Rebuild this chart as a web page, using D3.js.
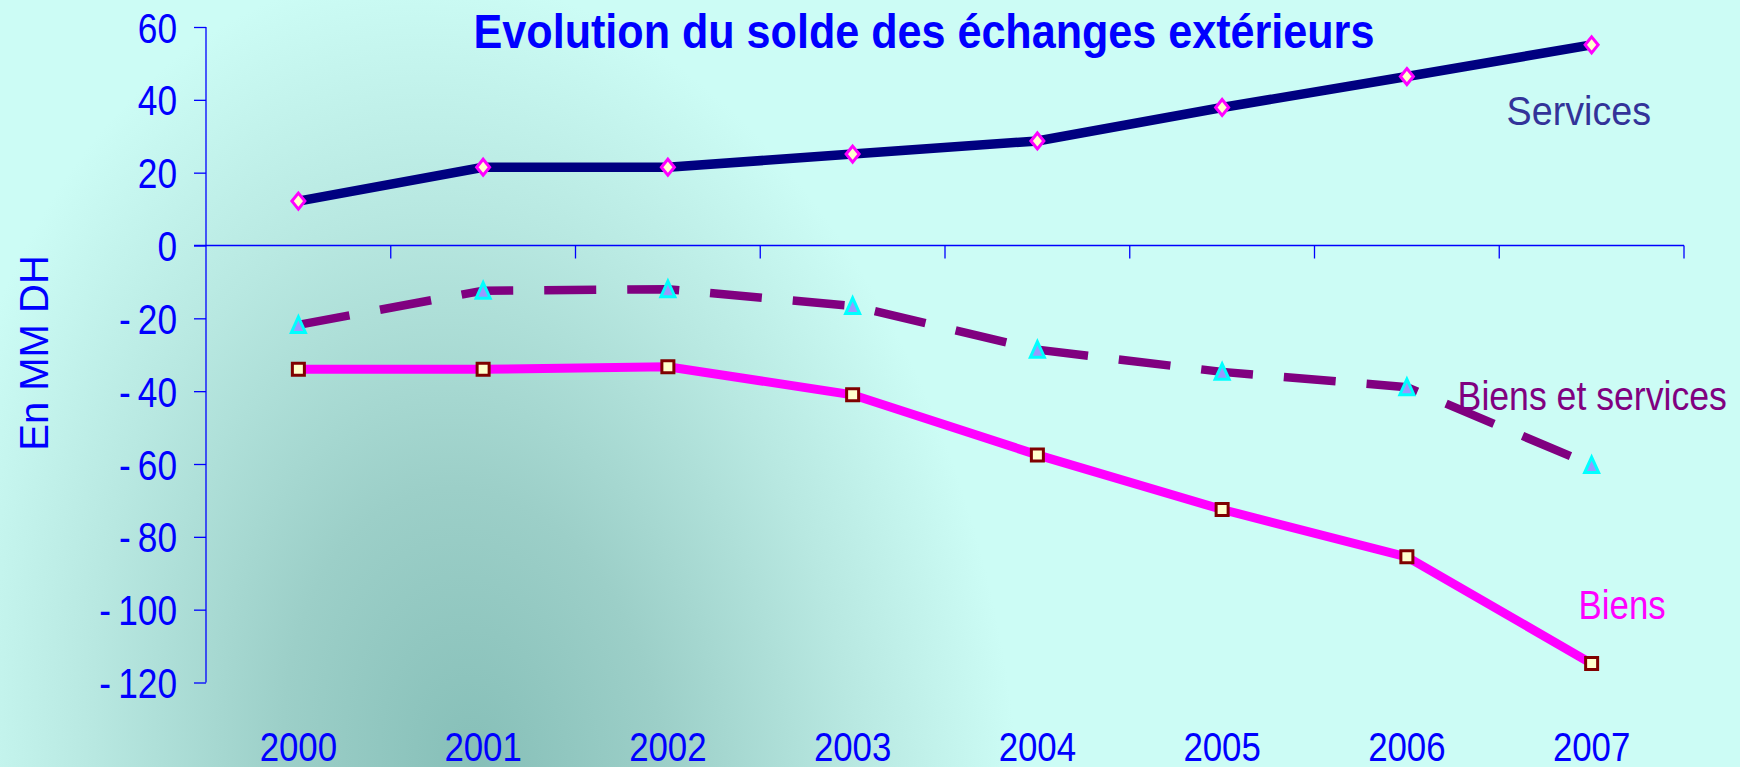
<!DOCTYPE html>
<head>
  <meta charset="utf-8">
  <script src="https://d3js.org/d3.v7.min.js"></script>
  <style>
    body {
      margin: 0;
      background: #ccfcf5;
    }
    svg text {
      font-family: "Liberation Sans", Arial, sans-serif;
    }
    .axis path, .axis line {
      stroke: #0000ff;
      stroke-width: 1.3;
    }
    .axis text {
      fill: #0000ff;
      font-size: 40.5px;
    }
    .axis.y text {
      font-size: 42px;
    }
  </style>
</head>

<body>
  <div id="chart"></div>

  <script>
    var years = ["2000", "2001", "2002", "2003", "2004", "2005", "2006", "2007"];
    var services = [12.2, 21.5, 21.5, 25.1, 28.7, 37.9, 46.4, 55.1];
    var biensEtServices = [-21.8, -12.4, -12.0, -16.6, -28.6, -34.7, -38.9, -60.3];
    var biens = [-34.0, -34.0, -33.3, -41.0, -57.5, -72.5, -85.5, -114.8];
    var yTicks = [60, 40, 20, 0, -20, -40, -60, -80, -100, -120];

    var width = 1740,
        height = 767;

    // the original font is narrow, squeeze the text horizontally
    function squeeze(sel, sx) {
      sel.each(function() {
        var t = d3.select(this),
            tx = +t.attr("x") || 0,
            tf = t.attr("transform") || "";
        t.attr("x", tx / sx)
         .attr("transform", tf + " scale(" + sx + ",1)");
      });
    }

    // markers a bit taller than wide, like the excel ones
    var tallDiamond = {
      draw: function(ctx, size) {
        ctx.moveTo(0, -8); ctx.lineTo(6.5, 0); ctx.lineTo(0, 8); ctx.lineTo(-6.5, 0); ctx.closePath();
      }
    };
    var tallTriangle = {
      draw: function(ctx, size) {
        ctx.moveTo(0, -8); ctx.lineTo(7, 7.5); ctx.lineTo(-7, 7.5); ctx.closePath();
      }
    };

    var svg = d3.select("#chart").append("svg")
      .attr("width", width)
      .attr("height", height);

    // background: dark patch rising from the bottom left
    var defs = svg.append("defs");
    var grad = defs.append("radialGradient")
      .attr("id", "bg")
      .attr("gradientUnits", "userSpaceOnUse")
      .attr("cx", 0).attr("cy", 0).attr("r", 1)
      .attr("gradientTransform", "translate(475,767) rotate(-8) scale(540,800)");
    grad.append("stop").attr("offset", "0%").attr("stop-color", "#86bfb8");
    grad.append("stop").attr("offset", "35%").attr("stop-color", "#9ccfc8");
    grad.append("stop").attr("offset", "70%").attr("stop-color", "#b8e8e1");
    grad.append("stop").attr("offset", "100%").attr("stop-color", "#ccfcf5");

    svg.append("rect")
      .attr("width", width)
      .attr("height", height)
      .attr("fill", "url(#bg)");

    var x = d3.scaleBand()
      .domain(years)
      .range([206, 1684]);

    var y = d3.scaleLinear()
      .domain([-120, 60])
      .range([682.5, 27]);

    function cx(d, i) { return x(years[i]) + x.bandwidth() / 2; }

    // y axis
    svg.append("g")
      .attr("class", "axis y")
      .attr("transform", "translate(206,0)")
      .call(d3.axisLeft(y)
        .tickValues(yTicks)
        .tickSize(12)
        .tickPadding(17)
        .tickFormat(function(d) { return d < 0 ? "-\u2009" + Math.abs(d) : d; }))
      .call(function(g) { g.select(".domain").attr("d", "M0," + y(60) + "V" + y(-120)); })
      .selectAll("text")
        .attr("dy", "0.36em")
        .call(squeeze, 0.84);

    // x axis along zero
    var xAxis = svg.append("g")
      .attr("class", "axis")
      .attr("transform", "translate(0," + y(0) + ")");
    xAxis.append("line")
      .attr("x1", 194).attr("x2", x.range()[1]);
    xAxis.selectAll(".tk")
        .data(years.slice(1).concat(["end"]))
      .enter().append("line")
        .attr("class", "tk")
        .attr("x1", function(d) { return d === "end" ? x.range()[1] : x(d); })
        .attr("x2", function(d) { return d === "end" ? x.range()[1] : x(d); })
        .attr("y1", 0)
        .attr("y2", 13);

    // year labels at bottom
    svg.append("g")
      .attr("class", "axis")
      .selectAll("text")
        .data(years)
      .enter().append("text")
        .attr("x", function(d) { return x(d) + x.bandwidth() / 2; })
        .attr("y", 761)
        .attr("text-anchor", "middle")
        .text(function(d) { return d; })
        .call(squeeze, 0.86);

    // title
    svg.append("text")
      .attr("x", 924)
      .attr("y", 48)
      .attr("text-anchor", "middle")
      .style("font-size", "49px")
      .style("font-weight", "bold")
      .style("fill", "#0000ff")
      .text("Evolution du solde des échanges extérieurs")
      .call(squeeze, 0.88);

    // y title
    svg.append("text")
      .attr("transform", "translate(48,353) rotate(-90)")
      .attr("text-anchor", "middle")
      .style("font-size", "40px")
      .style("fill", "#0000ff")
      .text("En MM DH");

    var line = d3.line()
      .x(cx)
      .y(function(d) { return y(d); });

    var series = [
      {name: "Services", values: services, color: "#000080", width: 9.5, dash: null, sym: tallDiamond,
       fill: "#ffffcc", stroke: "#ff00ff", label: "#333399", dx: -85, dy: 80, sx: 0.93},
      {name: "Biens et services", values: biensEtServices, color: "#800080", width: 8.5, dash: "52,31", sym: tallTriangle,
       fill: "#9999ff", stroke: "#00ffff", label: "#800080", dx: -134, dy: -55, sx: 0.88},
      {name: "Biens", values: biens, color: "#ff00ff", width: 9, dash: null, sym: d3.symbolSquare,
       fill: "#ffffcc", stroke: "#800000", label: "#ff00ff", dx: -13, dy: -45, sx: 0.86}
    ];

    // labels sit under the lines
    series.forEach(function(s) {
      var last = s.values.length - 1;
      svg.append("text")
        .attr("x", cx(s.values[last], last) + s.dx)
        .attr("y", y(s.values[last]) + s.dy)
        .style("font-size", "40.5px")
        .style("fill", s.label)
        .text(s.name)
        .call(squeeze, s.sx);
    });

    series.forEach(function(s) {
      svg.append("path")
        .datum(s.values)
        .attr("d", line)
        .attr("fill", "none")
        .attr("stroke", s.color)
        .attr("stroke-width", s.width)
        .attr("stroke-dasharray", s.dash);

      svg.append("g").selectAll("path")
          .data(s.values)
        .enter().append("path")
          .attr("d", d3.symbol().type(s.sym).size(144))
          .attr("transform", function(d, i) {
            return "translate(" + cx(d, i) + "," + y(d) + ")";
          })
          .attr("fill", s.fill)
          .attr("stroke", s.stroke)
          .attr("stroke-width", 3);
    });
  </script>
</body>
